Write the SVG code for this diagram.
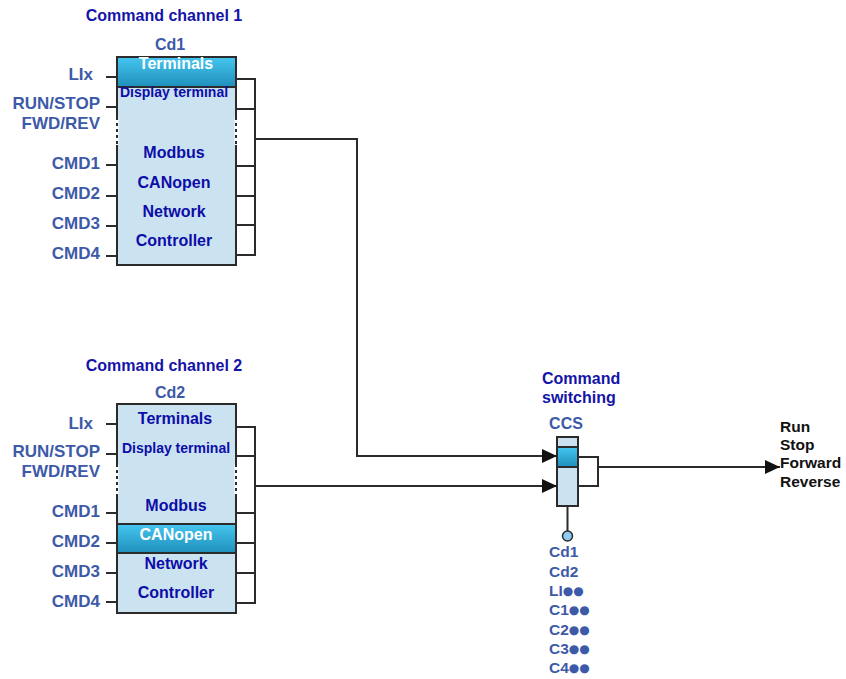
<svg xmlns="http://www.w3.org/2000/svg" width="846" height="679" viewBox="0 0 846 679">
<defs>
<linearGradient id="band" x1="0" y1="0" x2="0" y2="1">
<stop offset="0" stop-color="#45c6f0"/>
<stop offset="1" stop-color="#1f8fbb"/>
</linearGradient>
<marker id="arr" markerUnits="userSpaceOnUse" markerWidth="16" markerHeight="14" refX="15" refY="7" orient="auto">
<path d="M0,0 L15,7 L0,14 Z" fill="#111"/>
</marker>
<style>
.box{fill:#cbe2f0;stroke:#2b2b2b;stroke-width:2}
.band{fill:url(#band);stroke:#2b2b2b;stroke-width:2}
.ln{fill:none;stroke:#2b2b2b;stroke-width:2}
.gap{fill:none;stroke:#ffffff;stroke-width:3}
.dash{fill:none;stroke:#2b2b2b;stroke-width:2;stroke-dasharray:3 3}
.title{font-family:"Liberation Sans",Arial,sans-serif;font-weight:bold;font-size:16px;fill:#1414a8}
.lbl{font-family:"Liberation Sans",Arial,sans-serif;font-weight:bold;font-size:17px;fill:#3d5aa8;text-anchor:end}
.cd{font-family:"Liberation Sans",Arial,sans-serif;font-weight:bold;font-size:16px;fill:#3d5aa8;text-anchor:middle}
.in{font-family:"Liberation Sans",Arial,sans-serif;font-weight:bold;font-size:16px;fill:#0d0da8;text-anchor:middle}
.ins{font-family:"Liberation Sans",Arial,sans-serif;font-weight:bold;font-size:14px;fill:#0d0da8;text-anchor:middle}
.wh{font-family:"Liberation Sans",Arial,sans-serif;font-weight:bold;font-size:16px;fill:#ffffff;text-anchor:middle}
.out{font-family:"Liberation Sans",Arial,sans-serif;font-weight:bold;font-size:15.5px;fill:#111}
.sel{font-family:"Liberation Sans",Arial,sans-serif;font-weight:bold;font-size:15.5px;fill:#3d5aa8}
.dot{font-family:"DejaVu Sans",sans-serif;font-size:12px}
</style>
</defs>

<g id="channel1">
<text class="title" x="164" y="21" text-anchor="middle">Command channel 1</text>
<text class="cd" x="170" y="50">Cd1</text>
<rect class="box" x="117" y="57" width="119" height="208"/>
<rect class="band" x="117" y="57" width="119" height="30"/>
<line class="gap" x1="117" y1="117" x2="117" y2="145"/>
<line class="dash" x1="117" y1="117" x2="117" y2="145"/>
<line class="gap" x1="236" y1="117" x2="236" y2="145"/>
<line class="dash" x1="236" y1="117" x2="236" y2="145"/>
<text class="wh" x="176" y="69">Terminals</text>
<text class="ins" x="174" y="97">Display terminal</text>
<text class="in" x="174" y="158">Modbus</text>
<text class="in" x="174" y="188">CANopen</text>
<text class="in" x="174" y="217">Network</text>
<text class="in" x="174" y="246">Controller</text>
<text class="lbl" x="93" y="80">LIx</text>
<text class="lbl" x="100" y="109">RUN/STOP</text>
<text class="lbl" x="100" y="129">FWD/REV</text>
<text class="lbl" x="100" y="169">CMD1</text>
<text class="lbl" x="100" y="199">CMD2</text>
<text class="lbl" x="100" y="229">CMD3</text>
<text class="lbl" x="100" y="259">CMD4</text>
</g>

<g id="channel2">
<text class="title" x="164" y="371" text-anchor="middle">Command channel 2</text>
<text class="cd" x="170" y="398">Cd2</text>
<rect class="box" x="117" y="404" width="119" height="209"/>
<rect class="band" x="117" y="524" width="119" height="29"/>
<line class="gap" x1="117" y1="464" x2="117" y2="494"/>
<line class="dash" x1="117" y1="464" x2="117" y2="494"/>
<line class="gap" x1="236" y1="464" x2="236" y2="494"/>
<line class="dash" x1="236" y1="464" x2="236" y2="494"/>
<text class="in" x="175" y="424">Terminals</text>
<text class="ins" x="176" y="453">Display terminal</text>
<text class="in" x="176" y="511">Modbus</text>
<text class="wh" x="176" y="540">CANopen</text>
<text class="in" x="176" y="569">Network</text>
<text class="in" x="176" y="598">Controller</text>
<text class="lbl" x="93" y="429">LIx</text>
<text class="lbl" x="100" y="457">RUN/STOP</text>
<text class="lbl" x="100" y="477">FWD/REV</text>
<text class="lbl" x="100" y="517">CMD1</text>
<text class="lbl" x="100" y="547">CMD2</text>
<text class="lbl" x="100" y="577">CMD3</text>
<text class="lbl" x="100" y="607">CMD4</text>
</g>

<g id="ccs">
<text class="title" x="542" y="384">Command</text>
<text class="title" x="542" y="403">switching</text>
<text class="cd" x="566" y="429">CCS</text>
<rect class="box" x="557" y="437" width="21" height="69"/>
<rect class="band" x="557" y="447" width="21" height="20"/>
<line class="ln" x1="567.5" y1="506" x2="567.5" y2="531"/>
<circle cx="567.5" cy="536" r="5" fill="#8fcdf0" stroke="#2b2b2b" stroke-width="1.5"/>
<text class="sel" x="549" y="557">Cd1</text>
<text class="sel" x="549" y="577">Cd2</text>
<text class="sel" x="549" y="596">LI<tspan class="dot" dy="-1">●●</tspan></text>
<text class="sel" x="549" y="615">C1<tspan class="dot" dy="-1">●●</tspan></text>
<text class="sel" x="549" y="635">C2<tspan class="dot" dy="-1">●●</tspan></text>
<text class="sel" x="549" y="654">C3<tspan class="dot" dy="-1">●●</tspan></text>
<text class="sel" x="549" y="673">C4<tspan class="dot" dy="-1">●●</tspan></text>
</g>

<g id="outputs">
<text class="out" x="780" y="432">Run</text>
<text class="out" x="780" y="450">Stop</text>
<text class="out" x="780" y="468">Forward</text>
<text class="out" x="780" y="487">Reverse</text>
</g>

<g id="connectors">
<path class="ln" d="M106,77 H117 M106,107 H117 M106,165 H117 M106,196 H117 M106,226 H117 M106,256 H117"/>
<path class="ln" d="M236,79 H255 V255 H236 M236,109 H255 M236,166 H255 M236,196 H255 M236,225 H255"/>
<path class="ln" d="M255,139 H357 V456 H557" marker-end="url(#arr)"/>
<path class="ln" d="M106,424 H117 M106,454 H117 M106,513 H117 M106,543 H117 M106,573 H117 M106,602 H117"/>
<path class="ln" d="M236,427 H255 V603 H236 M236,456 H255 M236,513 H255 M236,543 H255 M236,573 H255"/>
<path class="ln" d="M255,486 H557" marker-end="url(#arr)"/>
<path class="ln" d="M578,457 H598 V486 H578"/>
<path class="ln" d="M598,467 H780" marker-end="url(#arr)"/>
</g>
</svg>
